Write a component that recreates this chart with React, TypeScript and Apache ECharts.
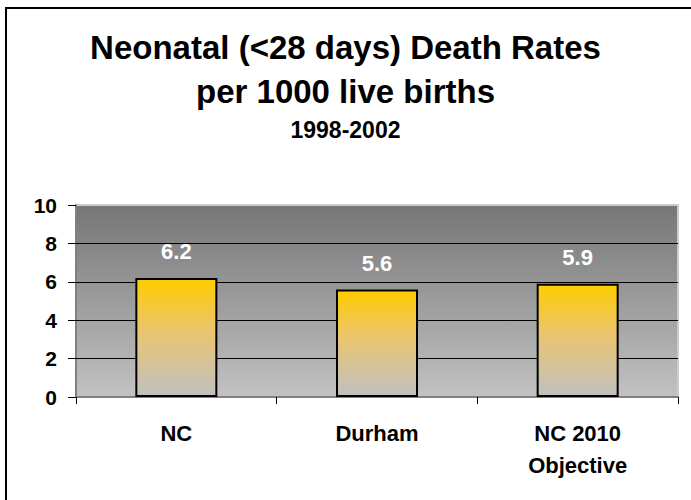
import React, { useEffect, useRef } from "react";
import * as echarts from "echarts";

const categories = ["NC", "Durham", "NC 2010\nObjective"];
const values = [6.2, 5.6, 5.9];
const gridValues = [2, 4, 6, 8];
const titleLines = ["Neonatal (<28 days) Death Rates", "per 1000 live births"];
const subtitle = "1998-2002";

const FONT = "Arial, 'Liberation Sans', sans-serif";

export default function App() {
  const ref = useRef<HTMLDivElement>(null);
  useEffect(() => {
    if (!ref.current) return;
    const chart = echarts.init(ref.current, null, { renderer: "svg" });
    chart.setOption({
      animation: false,
      backgroundColor: "#ffffff",
      title: [
        {
          text: titleLines.join("\n"),
          left: "center",
          top: 25,
          padding: 0,
          textStyle: { fontFamily: FONT, fontWeight: "bold", fontSize: 33, lineHeight: 44, color: "#000" },
        },
        {
          text: subtitle,
          left: "center",
          top: 118,
          padding: 0,
          textStyle: { fontFamily: FONT, fontWeight: "bold", fontSize: 23, lineHeight: 24, color: "#000" },
        },
      ],
      graphic: [
        {
          type: "rect",
          shape: { x: 6, y: 8, width: 720, height: 520 },
          style: { fill: "none", stroke: "#000", lineWidth: 2 },
          silent: true,
          z: 100,
        },
      ],
      grid: {
        left: 76,
        top: 205,
        right: 13,
        bottom: 103,
        show: true,
        borderColor: "#cccccc",
        borderWidth: 2,
        backgroundColor: new echarts.graphic.LinearGradient(0, 0, 0, 1, [
          { offset: 0, color: "#767676" },
          { offset: 1, color: "#c2c2c2" },
        ]),
      },
      xAxis: {
        type: "category",
        data: categories,
        axisLine: { show: true, lineStyle: { color: "#808080", width: 2 } },
        axisTick: { show: true, length: 7, alignWithLabel: false, lineStyle: { color: "#000", width: 1 } },
        axisLabel: {
          fontFamily: FONT,
          fontWeight: "bold",
          fontSize: 22,
          lineHeight: 32,
          color: "#000",
          margin: 20,
        },
      },
      yAxis: {
        type: "value",
        min: 0,
        max: 10,
        interval: 2,
        axisLine: { show: true, lineStyle: { color: "#808080", width: 2 } },
        axisTick: { show: true, length: 8, lineStyle: { color: "#000", width: 1 } },
        splitLine: { show: false },
        axisLabel: {
          fontFamily: FONT,
          fontWeight: "bold",
          fontSize: 21,
          color: "#000",
          margin: 19,
        },
      },
      series: [
        {
          type: "bar",
          data: values,
          barWidth: 82,
          itemStyle: {
            color: new echarts.graphic.LinearGradient(0, 0, 0, 1, [
              { offset: 0, color: "#ffcc00" },
              { offset: 0.45, color: "#eac570" },
              { offset: 1, color: "#c0c0c0" },
            ]),
            borderColor: "#000",
            borderWidth: 2,
          },
          label: {
            show: true,
            position: "top",
            distance: 15,
            fontFamily: FONT,
            fontWeight: "bold",
            fontSize: 22,
            color: "#ffffff",
          },
          markLine: {
            silent: true,
            symbol: "none",
            label: { show: false },
            lineStyle: { color: "#000", width: 1, type: "solid" },
            data: gridValues.map((v) => ({ yAxis: v })),
            z: 1,
          },
          z: 3,
        },
      ],
    });
    return () => chart.dispose();
  }, []);
  return (
    <div
      ref={ref}
      style={{ position: "absolute", left: 0, top: 0, width: 691, height: 500 }}
    />
  );
}
